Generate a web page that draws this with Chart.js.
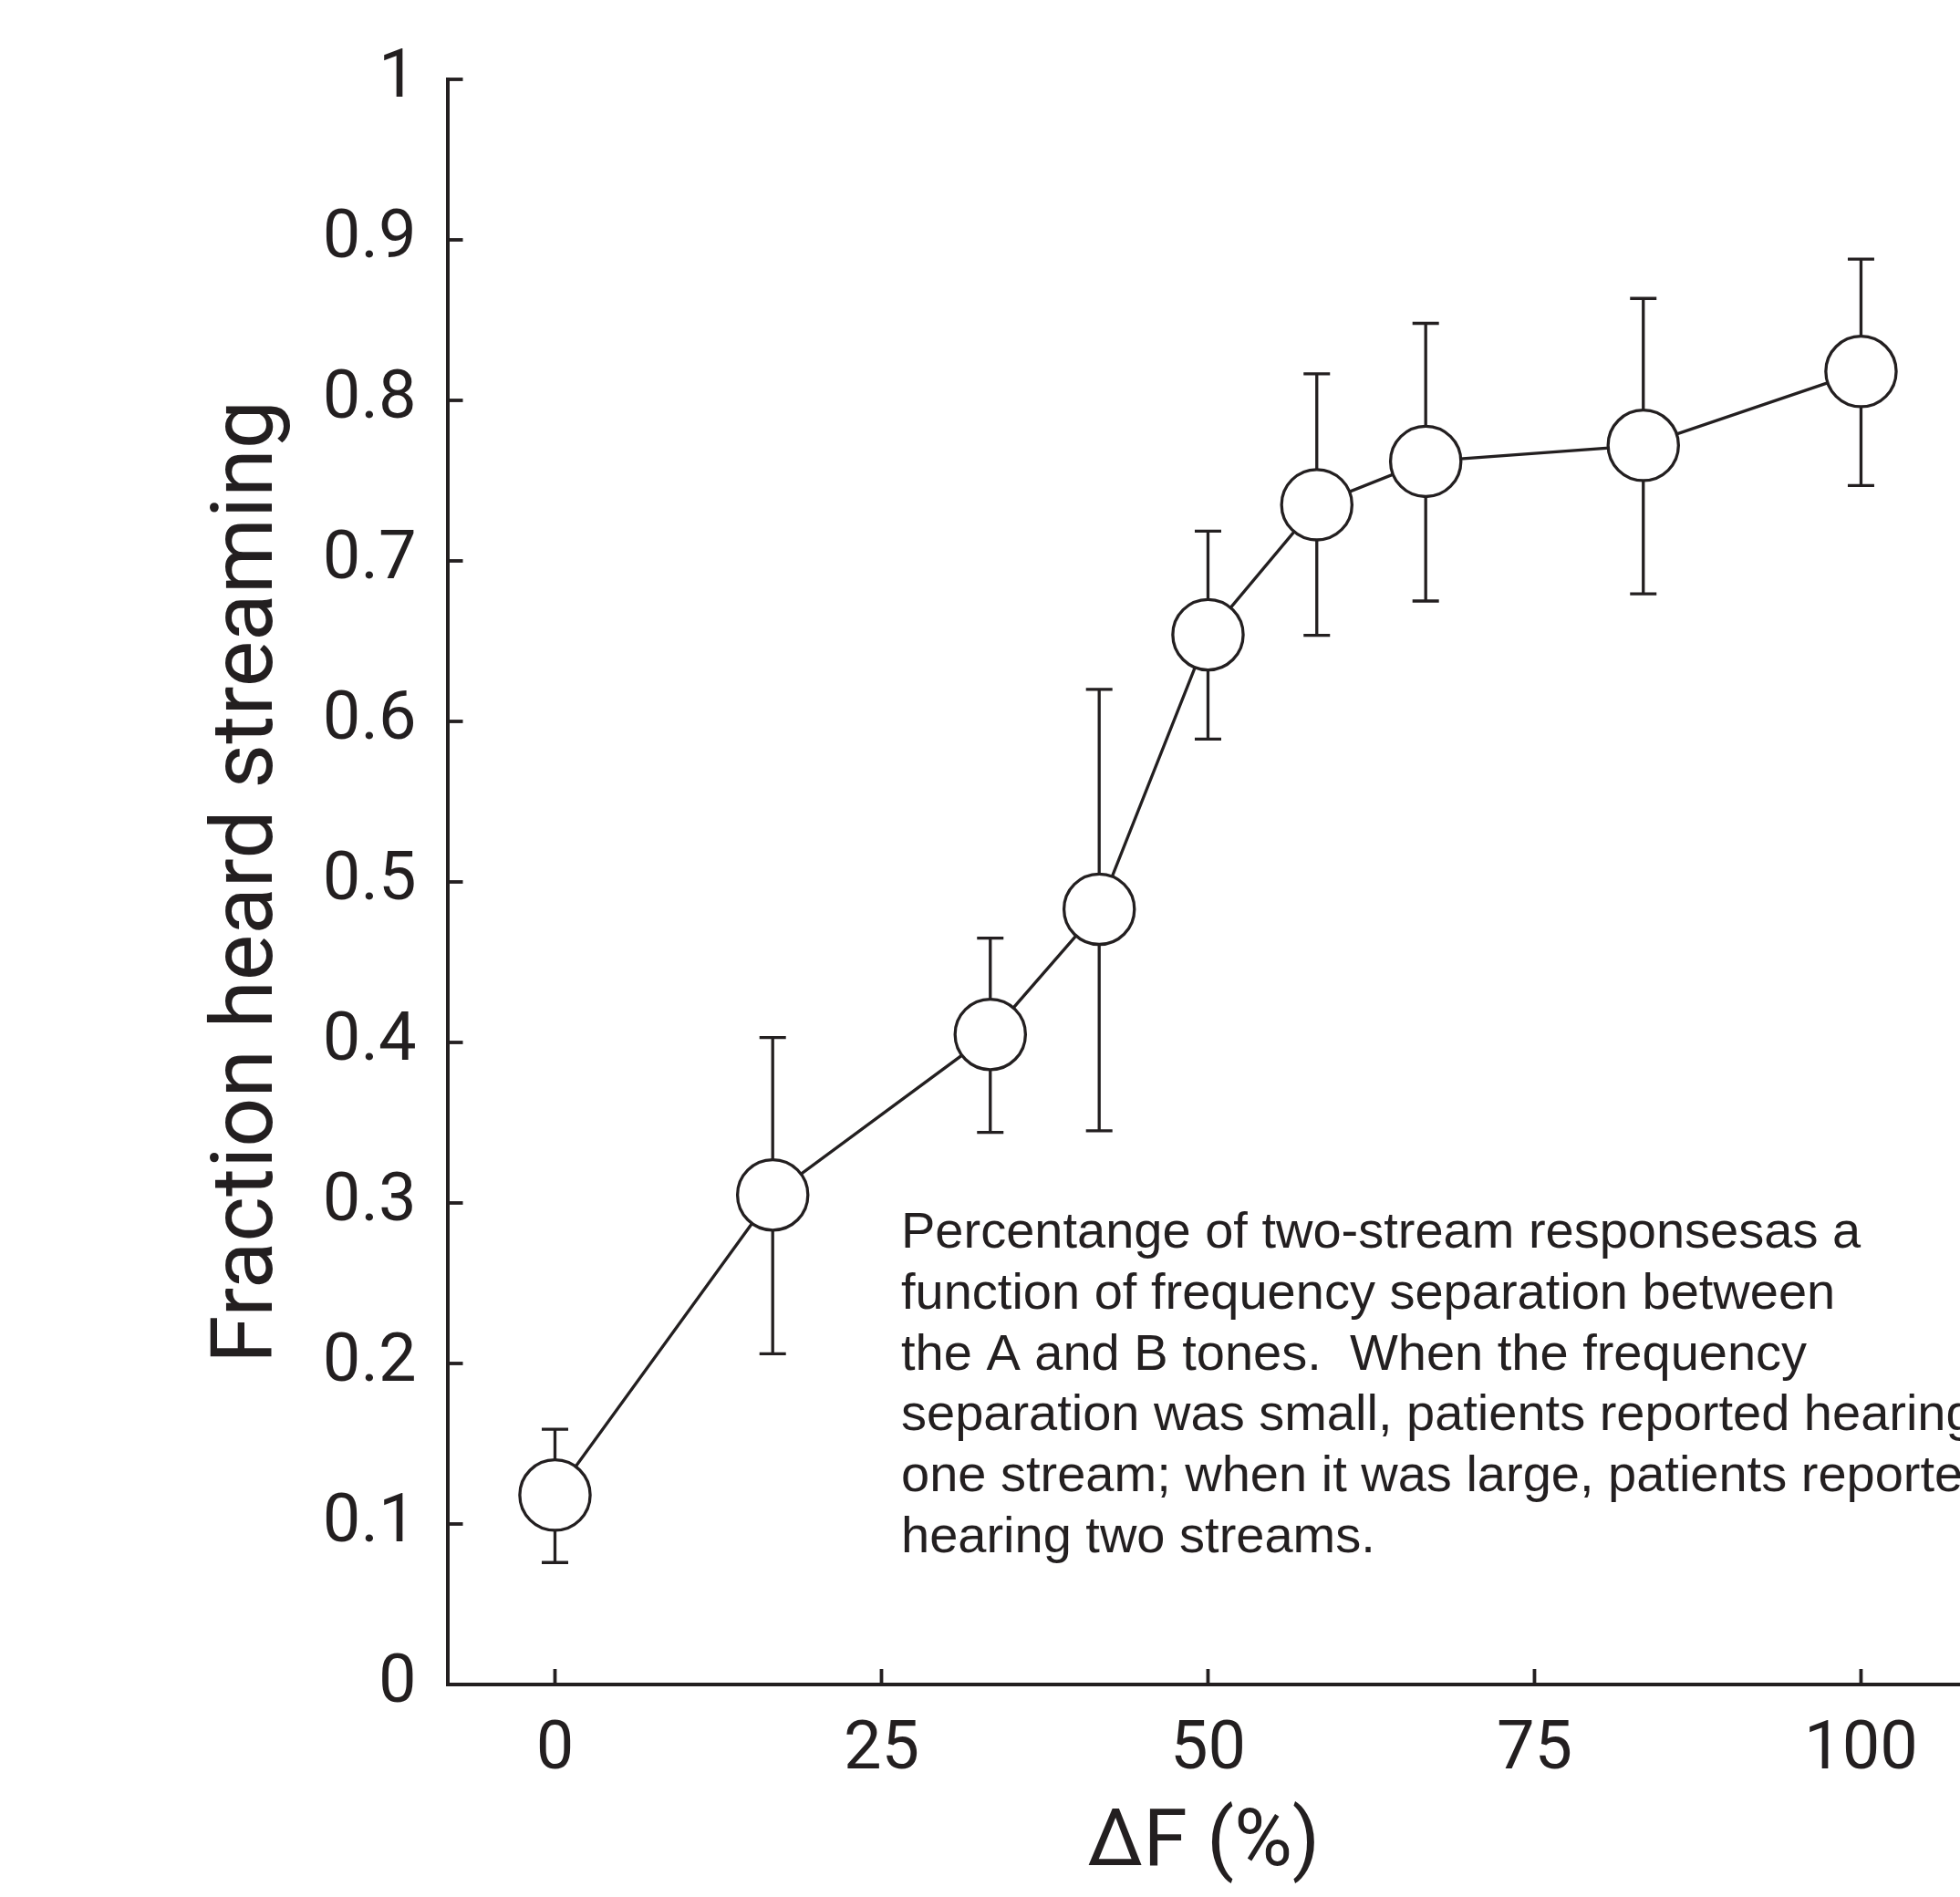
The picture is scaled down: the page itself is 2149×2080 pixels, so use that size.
<!DOCTYPE html>
<html>
<head>
<meta charset="utf-8">
<script src="https://cdn.jsdelivr.net/npm/chart.js@4.4.1/dist/chart.umd.min.js"></script>
<style>
  html, body { margin: 0; padding: 0; background: #ffffff; }
  #wrap { width: 2149px; height: 2080px; }
</style>
</head>
<body>
<div id="wrap"><canvas id="c" width="2149" height="2080"></canvas></div>
<script>
// ---- data ----
const deltaF   = [0, 16.67, 33.33, 41.67, 50, 58.33, 66.67, 83.33, 100];
const fraction = [0.118, 0.305, 0.405, 0.483, 0.654, 0.735, 0.762, 0.772, 0.818];
const errUpper = [0.159, 0.403, 0.465, 0.620, 0.7185, 0.8165, 0.848, 0.8635, 0.888];
const errLower = [0.076, 0.206, 0.344, 0.345, 0.589, 0.6536, 0.675, 0.6795, 0.747];
const xTicks = [0, 25, 50, 75, 100];
const yTicks = [0, 0.1, 0.2, 0.3, 0.4, 0.5, 0.6, 0.7, 0.8, 0.9, 1];
const xTitle = 'ΔF (%)';
const yTitle = 'Fraction heard streaming';
const noteLines = [
  'Percentange of two-stream responsesas a',
  'function of frequency separation between',
  'the A and B tones.  When the frequency',
  'separation was small, patients reported hearing',
  'one stream; when it was large, patients reported',
  'hearing two streams.'
];

const INK = '#231f20';

const errorBars = {
  id: 'errorBars',
  beforeDatasetsDraw(chart) {
    const {ctx} = chart;
    const xs = chart.scales.x, ys = chart.scales.y;
    ctx.save();
    ctx.strokeStyle = INK;
    ctx.lineWidth = 3.3;
    ctx.lineCap = 'butt';
    const half = 14.5;
    deltaF.forEach((xv, i) => {
      const x = xs.getPixelForValue(xv);
      const yU = ys.getPixelForValue(errUpper[i]);
      const yL = ys.getPixelForValue(errLower[i]);
      ctx.beginPath();
      ctx.moveTo(x, yU); ctx.lineTo(x, yL);
      ctx.moveTo(x - half, yU); ctx.lineTo(x + half, yU);
      ctx.moveTo(x - half, yL); ctx.lineTo(x + half, yL);
      ctx.stroke();
    });
    ctx.restore();
  }
};

const inwardTicks = {
  id: 'inwardTicks',
  afterDraw(chart) {
    const {ctx, chartArea} = chart;
    const xs = chart.scales.x, ys = chart.scales.y;
    const len = 17;
    ctx.save();
    ctx.strokeStyle = INK;
    ctx.lineWidth = 3.8;
    ctx.lineCap = 'butt';
    ys.ticks.forEach(t => {
      const y = ys.getPixelForValue(t.value);
      ctx.beginPath();
      ctx.moveTo(chartArea.left, y);
      ctx.lineTo(chartArea.left + len, y);
      ctx.stroke();
    });
    xs.ticks.forEach(t => {
      const x = xs.getPixelForValue(t.value);
      ctx.beginPath();
      ctx.moveTo(x, chartArea.bottom);
      ctx.lineTo(x, chartArea.bottom - len);
      ctx.stroke();
    });
    ctx.restore();
  }
};

const noteText = {
  id: 'noteText',
  afterDraw(chart) {
    const {ctx} = chart;
    ctx.save();
    ctx.fillStyle = INK;
    ctx.font = '56px "Liberation Sans", Arial, sans-serif';
    ctx.textAlign = 'left';
    ctx.textBaseline = 'alphabetic';
    const x0 = 988, y0 = 1368.3, lh = 66.7;
    noteLines.forEach((line, i) => ctx.fillText(line, x0, y0 + i * lh));
    ctx.restore();
  }
};

new Chart(document.getElementById('c'), {
  type: 'line',
  data: {
    datasets: [{
      data: deltaF.map((x, i) => ({x: x, y: fraction[i]})),
      borderColor: INK,
      borderWidth: 3.3,
      backgroundColor: '#ffffff',
      pointRadius: 38.6,
      pointHoverRadius: 38.6,
      pointBorderWidth: 3.3,
      pointBackgroundColor: '#ffffff',
      pointBorderColor: INK,
      tension: 0,
      fill: false,
      clip: false
    }]
  },
  options: {
    responsive: false,
    animation: false,
    events: [],
    layout: { autoPadding: false, padding: { top: 87, left: 0, right: 0, bottom: 3 } },
    plugins: { legend: { display: false }, tooltip: { enabled: false } },
    scales: {
      x: {
        type: 'linear',
        min: -8.24,
        max: 107.58,
        afterBuildTicks: (scale) => { scale.ticks = xTicks.map(v => ({value: v})); },
        afterFit: (scale) => { scale.height = 230; scale.paddingLeft = 0; scale.paddingRight = 0; },
        grid: { display: true, drawOnChartArea: false, drawTicks: false, color: INK },
        border: { display: true, color: INK, width: 4 },
        ticks: {
          color: INK,
          padding: 29,
          maxRotation: 0,
          autoSkip: false,
          font: { family: 'Roboto', size: 74 },
          callback: (v) => String(v)
        },
        title: {
          display: true,
          text: xTitle,
          color: INK,
          font: { family: 'Roboto', size: 87 },
          padding: { top: 0, bottom: 1.6 }
        }
      },
      y: {
        type: 'linear',
        min: 0,
        max: 1,
        afterBuildTicks: (scale) => { scale.ticks = yTicks.map(v => ({value: v})); },
        afterFit: (scale) => { scale.width = 490.5; scale.paddingTop = 0; scale.paddingBottom = 0; },
        grid: { display: true, drawOnChartArea: false, drawTicks: false, color: INK },
        border: { display: true, color: INK, width: 4 },
        ticks: {
          color: INK,
          padding: 34,
          autoSkip: false,
          font: { family: 'Roboto', size: 74 },
          callback: (v) => String(v)
        },
        title: {
          display: true,
          text: yTitle,
          color: INK,
          font: { family: 'Roboto', size: 95 },
          padding: { top: 217, bottom: 0 }
        }
      }
    }
  },
  plugins: [errorBars, inwardTicks, noteText]
});
</script>
</body>
</html>
